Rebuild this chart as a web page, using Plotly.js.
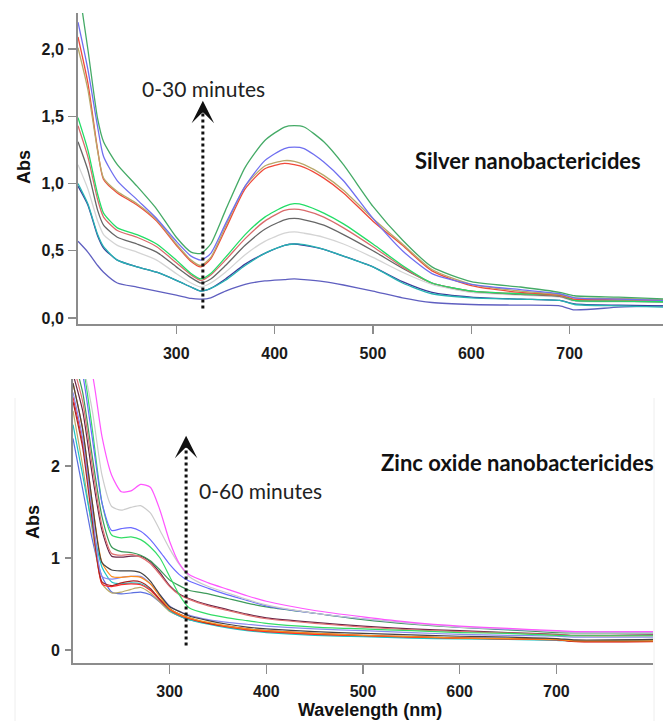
<!DOCTYPE html>
<html>
<head>
<meta charset="utf-8">
<script src="https://cdn.plot.ly/plotly-3.0.1.min.js"></script>
<style>html,body{margin:0;padding:0;background:#fff;}#chart{width:663px;height:721px;}</style>
</head>
<body>
<div id="chart"></div>
<script>
// ---------- Silver nanobactericides (top panel) ----------
var wlAg = [200,210,220,226,240,260,280,300,315,325,335,350,370,390,410,420,430,450,470,500,530,560,600,650,690,705,750,800];
var agGreen      = [2.5,2.0,1.48,1.31,1.14,0.98,0.81,0.60,0.49,0.48,0.55,0.80,1.12,1.32,1.42,1.43,1.42,1.31,1.14,0.83,0.58,0.38,0.27,0.23,0.19,0.165,0.155,0.14];
var agBlue       = [2.2,1.85,1.42,1.2,1.02,0.88,0.74,0.57,0.46,0.43,0.48,0.70,0.98,1.17,1.26,1.27,1.26,1.16,1.02,0.74,0.50,0.33,0.25,0.21,0.18,0.15,0.14,0.13];
var agOlive      = [2.01,1.70,1.24,1.04,0.94,0.85,0.73,0.55,0.43,0.39,0.45,0.68,0.98,1.13,1.17,1.165,1.14,1.06,0.95,0.74,0.55,0.36,0.25,0.20,0.175,0.15,0.145,0.135];
var agRed        = [2.09,1.75,1.25,1.03,0.93,0.84,0.72,0.54,0.42,0.38,0.44,0.66,0.96,1.11,1.15,1.14,1.12,1.04,0.93,0.72,0.54,0.35,0.24,0.19,0.17,0.14,0.14,0.13];
var agBrightGreen= [1.49,1.25,0.92,0.78,0.67,0.62,0.55,0.43,0.33,0.29,0.33,0.45,0.62,0.75,0.83,0.85,0.84,0.78,0.70,0.55,0.39,0.26,0.20,0.18,0.17,0.13,0.125,0.12];
var agSalmon     = [1.43,1.20,0.88,0.75,0.65,0.60,0.53,0.41,0.32,0.28,0.32,0.43,0.59,0.72,0.80,0.81,0.80,0.75,0.67,0.53,0.38,0.26,0.20,0.18,0.165,0.135,0.13,0.125];
var agDarkGray   = [1.31,1.10,0.80,0.69,0.60,0.55,0.49,0.38,0.30,0.26,0.29,0.39,0.54,0.66,0.73,0.74,0.73,0.69,0.62,0.50,0.37,0.26,0.20,0.175,0.16,0.13,0.125,0.12];
var agLightGray  = [1.14,0.96,0.72,0.62,0.54,0.49,0.43,0.33,0.26,0.23,0.26,0.34,0.47,0.57,0.63,0.64,0.63,0.60,0.55,0.45,0.34,0.25,0.19,0.17,0.155,0.125,0.12,0.115];
var agTeal       = [1.0,0.85,0.62,0.53,0.43,0.38,0.34,0.28,0.23,0.20,0.22,0.28,0.39,0.48,0.54,0.55,0.545,0.51,0.46,0.38,0.26,0.18,0.15,0.14,0.13,0.10,0.09,0.08];
var agNavy       = [0.98,0.84,0.61,0.52,0.43,0.38,0.34,0.28,0.23,0.20,0.22,0.29,0.40,0.48,0.54,0.55,0.54,0.51,0.46,0.38,0.27,0.19,0.155,0.14,0.13,0.105,0.095,0.09];
var agSlate      = [0.57,0.49,0.39,0.34,0.26,0.23,0.20,0.17,0.145,0.14,0.15,0.20,0.25,0.275,0.285,0.29,0.285,0.27,0.245,0.20,0.15,0.115,0.10,0.095,0.09,0.06,0.08,0.09];

var agSeries = [agSlate, agNavy, agTeal, agLightGray, agDarkGray, agSalmon, agBrightGreen, agRed, agOlive, agBlue, agGreen];
var agColors = ['#5f5fc0','#3a3a99','#26b3b3','#d4d4d4','#666666','#d96b6b','#22dd66','#f04a3a','#b8a86a','#6f6ff0','#44aa66'];
var agYTickVals = [0, 0.5, 1, 1.5, 2];
var agYTickText = ['0,0','0,5','1,0','1,5','2,0'];

// ---------- Zinc oxide nanobactericides (bottom panel) ----------
var wlZn = [200,210,220,230,240,250,260,270,280,290,300,310,320,340,360,380,400,450,500,550,600,650,700,720,800];
var znMagenta   = [3.6,3.3,3.0,2.32,1.9,1.72,1.73,1.80,1.77,1.52,1.18,0.94,0.82,0.73,0.66,0.59,0.53,0.43,0.36,0.30,0.26,0.235,0.21,0.20,0.20];
var znLightGray = [3.4,3.1,2.6,1.9,1.56,1.52,1.55,1.57,1.49,1.30,1.10,0.93,0.80,0.69,0.62,0.55,0.49,0.40,0.34,0.29,0.25,0.23,0.20,0.195,0.195];
var znBlue      = [3.4,3.0,2.3,1.6,1.30,1.32,1.33,1.29,1.20,1.07,0.93,0.82,0.75,0.67,0.60,0.54,0.48,0.40,0.34,0.29,0.25,0.225,0.205,0.195,0.195];
var znGreen     = [3.4,3.1,2.4,1.6,1.25,1.22,1.23,1.20,1.12,1.0,0.80,0.60,0.46,0.39,0.35,0.32,0.29,0.25,0.23,0.21,0.19,0.18,0.16,0.155,0.155];
var znDarkGreen = [3.2,2.8,2.1,1.45,1.12,1.07,1.06,1.03,0.97,0.87,0.76,0.70,0.65,0.61,0.56,0.51,0.47,0.40,0.33,0.28,0.245,0.22,0.19,0.185,0.185];
var znSalmon    = [3.1,2.7,2.0,1.35,1.05,1.03,1.04,1.01,0.94,0.82,0.69,0.60,0.55,0.48,0.43,0.38,0.34,0.29,0.25,0.22,0.20,0.185,0.165,0.155,0.155];
var znMaroon    = [3.0,2.6,1.9,1.3,1.02,1.01,1.02,1.02,0.96,0.84,0.70,0.61,0.56,0.49,0.44,0.39,0.35,0.30,0.26,0.23,0.21,0.19,0.17,0.16,0.165];
var znBlack     = [2.9,2.4,1.6,0.95,0.87,0.86,0.86,0.84,0.75,0.60,0.47,0.42,0.37,0.32,0.28,0.25,0.23,0.20,0.18,0.165,0.15,0.14,0.125,0.11,0.115];
var znOrange    = [2.9,2.4,1.6,0.95,0.80,0.79,0.80,0.79,0.72,0.58,0.45,0.39,0.35,0.30,0.26,0.23,0.21,0.18,0.16,0.145,0.13,0.125,0.115,0.10,0.10];
var znPeriwinkle= [2.8,2.3,1.5,0.80,0.77,0.79,0.80,0.80,0.72,0.60,0.48,0.42,0.38,0.33,0.30,0.28,0.26,0.23,0.21,0.19,0.17,0.16,0.15,0.14,0.14];
var znDarkRed   = [2.7,2.2,1.4,0.74,0.70,0.73,0.75,0.74,0.67,0.55,0.45,0.39,0.35,0.29,0.26,0.23,0.21,0.18,0.16,0.145,0.13,0.125,0.115,0.095,0.095];
var znRed       = [2.75,2.25,1.45,0.72,0.69,0.71,0.72,0.71,0.65,0.54,0.44,0.38,0.34,0.29,0.25,0.22,0.20,0.17,0.155,0.14,0.13,0.12,0.11,0.09,0.09];
var znCyan      = [2.45,1.9,1.35,0.90,0.74,0.72,0.73,0.72,0.66,0.54,0.43,0.37,0.33,0.28,0.24,0.21,0.19,0.16,0.145,0.13,0.12,0.115,0.105,0.095,0.10];
var znKhaki     = [2.6,2.0,1.3,0.72,0.62,0.63,0.66,0.68,0.62,0.52,0.42,0.37,0.33,0.29,0.25,0.22,0.20,0.17,0.15,0.14,0.13,0.125,0.115,0.10,0.11];
var znLowBlue   = [2.3,1.75,1.2,0.80,0.63,0.61,0.62,0.63,0.60,0.52,0.43,0.37,0.33,0.29,0.25,0.22,0.20,0.17,0.15,0.14,0.13,0.125,0.115,0.10,0.11];

var znSeries = [znLowBlue, znKhaki, znCyan, znRed, znDarkRed, znPeriwinkle, znOrange, znBlack, znMaroon, znSalmon, znDarkGreen, znGreen, znBlue, znLightGray, znMagenta];
var znColors = ['#5a6ee0','#bcaa66','#1cc4c4','#ff2a2a','#a82424','#8a8aee','#ff8c1a','#444444','#6a2648','#e07070','#3d9a5a','#33dd66','#6a6aff','#cccccc','#ff55ff'];
var znYTickVals = [0, 1, 2];
var znYTickText = ['0','1','2'];

var xTickVals = [300, 400, 500, 600, 700];
var xTickText = ['300','400','500','600','700'];

// ---------- traces ----------
var traces = [];
agSeries.forEach(function (s, i) {
  traces.push({x: wlAg, y: s, type: 'scatter', mode: 'lines', xaxis: 'x', yaxis: 'y',
    line: {color: agColors[i], width: 1.3, shape: 'spline', smoothing: 0.6}, hoverinfo: 'skip'});
});
znSeries.forEach(function (s, i) {
  traces.push({x: wlZn, y: s, type: 'scatter', mode: 'lines', xaxis: 'x2', yaxis: 'y2',
    line: {color: znColors[i], width: 1.2, shape: 'spline', smoothing: 0.6}, hoverinfo: 'skip'});
});

var W = 663, H = 721;
function px(v) { return v / W; }
function py(v) { return 1 - v / H; }

var tickFont = {family: 'Liberation Sans, Arial, sans-serif', size: 16, color: '#1a1a1a', weight: 'bold'};
var axCommon = {showline: true, linecolor: '#8c8c8c', linewidth: 2, ticks: 'outside', tickcolor: '#8c8c8c',
  tickwidth: 1.5, showgrid: false, zeroline: false, tickfont: tickFont, fixedrange: true, tickmode: 'array'};

function label(x, y, text, font, extra) {
  return Object.assign({xref: 'paper', yref: 'paper', x: px(x), y: py(y), xanchor: 'center', yanchor: 'middle',
    showarrow: false, text: text, font: font}, extra || {});
}
var minuteFont = {family: 'Lato, Open Sans, sans-serif', size: 21, color: '#222222'};
var nameFont = {family: 'Lato, Open Sans, sans-serif', size: 22, color: '#111111', weight: 'bold'};
var titleFont = {family: 'Liberation Sans, Arial, sans-serif', size: 18, color: '#111111', weight: 'bold'};

var layout = {
  width: W, height: H,
  margin: {l: 0, r: 0, t: 0, b: 0},
  paper_bgcolor: '#ffffff', plot_bgcolor: '#ffffff',
  showlegend: false,
  xaxis: Object.assign({}, axCommon, {domain: [px(78), 1], range: [200, 795], anchor: 'y',
    tickvals: xTickVals, ticktext: xTickText, ticklen: 8, ticklabelstandoff: 6}),
  yaxis: Object.assign({}, axCommon, {domain: [py(324), py(13)], range: [-0.045, 2.268], anchor: 'x',
    tickvals: agYTickVals, ticktext: agYTickText, ticklen: 8, ticklabelstandoff: 1}),
  xaxis2: Object.assign({}, axCommon, {domain: [px(73), px(653)], range: [200, 800], anchor: 'y2',
    tickvals: xTickVals, ticktext: xTickText, ticklen: 9, ticklabelstandoff: 4}),
  yaxis2: Object.assign({}, axCommon, {domain: [py(663), py(379)], range: [-0.141, 2.946], anchor: 'x2',
    tickvals: znYTickVals, ticktext: znYTickText, ticklen: 6, ticklabelstandoff: 2}),
  shapes: [
    {type: 'line', xref: 'x', yref: 'y', x0: 327, x1: 327, y0: 0.07, y1: 1.55,
      line: {color: '#111111', width: 3, dash: 'dot'}},
    {type: 'line', xref: 'x2', yref: 'y2', x0: 317, x1: 317, y0: 0.05, y1: 2.24,
      line: {color: '#111111', width: 3, dash: 'dot'}},
    {type: 'line', xref: 'paper', yref: 'paper', x0: px(15), x1: px(15), y0: 0, y1: py(398),
      line: {color: '#eeeeee', width: 1}},
    {type: 'line', xref: 'paper', yref: 'paper', x0: px(654), x1: px(654), y0: 0, y1: py(398),
      line: {color: '#eeeeee', width: 1}}
  ],
  annotations: [
    {xref: 'x', yref: 'y', x: 327, y: 1.615, ax: 0, ay: 12, showarrow: true, arrowhead: 3,
      arrowsize: 1.5, arrowwidth: 2.5, arrowcolor: '#111111', text: ''},
    {xref: 'x2', yref: 'y2', x: 317, y: 2.33, ax: 0, ay: 12, showarrow: true, arrowhead: 3,
      arrowsize: 1.5, arrowwidth: 2.5, arrowcolor: '#111111', text: ''},
    label(203, 89, '0-30 minutes', minuteFont),
    label(528, 160, 'Silver nanobactericides', nameFont),
    label(260, 490, '0-60 minutes', minuteFont),
    label(517, 462, 'Zinc oxide nanobactericides', nameFont),
    label(24, 167, 'Abs', titleFont, {textangle: -90}),
    label(33, 522, 'Abs', titleFont, {textangle: -90}),
    label(370, 710, 'Wavelength (nm)', {family: 'Liberation Sans, Arial, sans-serif', size: 18, color: '#111111', weight: 'bold'})
  ]
};

Plotly.newPlot('chart', traces, layout, {displayModeBar: false, staticPlot: true});
</script>
</body>
</html>
